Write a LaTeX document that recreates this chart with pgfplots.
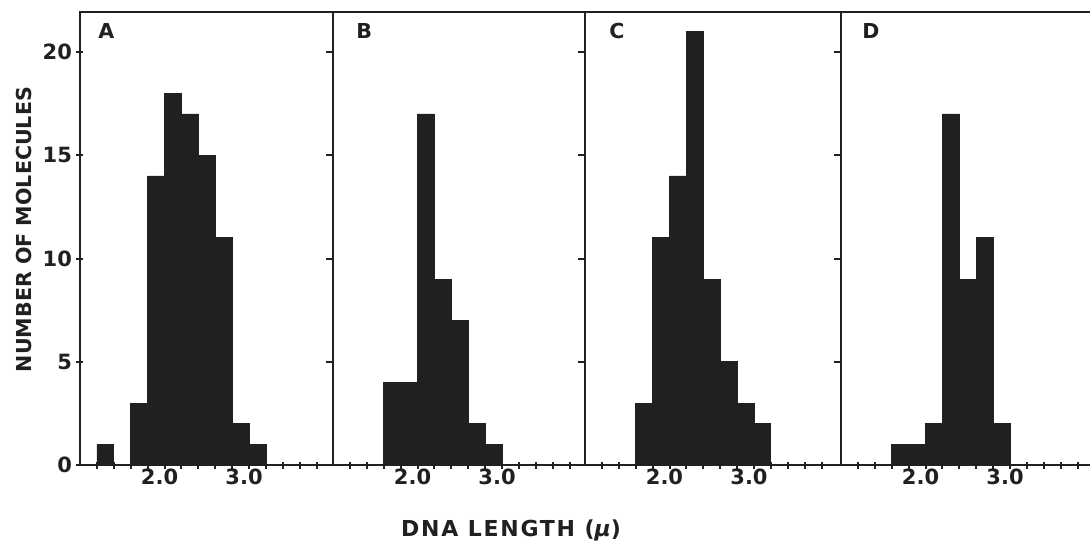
\documentclass[border=0pt]{standalone}
\usepackage{fontspec}
\setmainfont{DejaVu Sans}
\usepackage{pgfplots}
\pgfplotsset{compat=1.18}
\definecolor{barcolor}{RGB}{32,32,32}

\pgfplotsset{
  panel/.style={
    scale only axis,
    anchor=south west,
    height=226.5pt,
    xmin=1, ymin=0, ymax=21.94,
    axis line style={line width=1pt, barcolor},
    xtick={2,3}, xticklabels={2.0,3.0},
    minor xtick={1.2,1.4,1.6,1.8,2.2,2.4,2.6,2.8,3.2,3.4,3.6,3.8},
    ytick={0,5,10,15,20},
    xtick pos=bottom, ytick pos=left,
    tick align=outside,
    major tick length=3.5pt, minor tick length=3.5pt,
    tick style={line width=1pt, barcolor},
    x tick style={yshift=1.75pt},
    /pgf/number format/assume math mode=true,
    tick label style={font=\fontsize{10.5}{12}\selectfont\bfseries, text=barcolor},
    xticklabel style={xshift=-2.5pt, yshift=5pt},
    yticklabel style={xshift=3pt},
  },
}

\newcommand{\panelletter}[2]{%
  \node[anchor=north west, inner sep=0pt, font=\fontsize{10.3}{12}\selectfont\bfseries, text=barcolor]
    at (rel axis cs:0,1) [xshift=#1, yshift=-5.5pt] {#2};}

\begin{document}
\begin{tikzpicture}

% A
\begin{axis}[panel, at={(40pt,38.5pt)}, width=126.5pt, xmax=3.994, y tick style={xshift=1.5pt}]
\addplot[ybar interval, fill=barcolor, draw=barcolor] coordinates {
  (1.2,1) (1.4,0) (1.6,3) (1.8,14) (2.0,18) (2.2,17) (2.4,15) (2.6,11) (2.8,2) (3.0,1) (3.2,0)
};
\panelletter{9pt}{A}
\end{axis}

% B
\begin{axis}[panel, at={(166.5pt,38.5pt)}, width=126pt, xmax=3.982, yticklabels={}]
\addplot[ybar interval, fill=barcolor, draw=barcolor] coordinates {
  (1.6,4) (1.8,4) (2.0,17) (2.2,9) (2.4,7) (2.6,2) (2.8,1) (3.0,0)
};
\panelletter{11.5pt}{B}
\end{axis}

% C
\begin{axis}[panel, at={(292.5pt,38.5pt)}, width=128pt, xmax=4.03, yticklabels={}]
\addplot[ybar interval, fill=barcolor, draw=barcolor] coordinates {
  (1.6,3) (1.8,11) (2.0,14) (2.2,21) (2.4,9) (2.6,5) (2.8,3) (3.0,2) (3.2,0)
};
\panelletter{12pt}{C}
\end{axis}

% D
\begin{axis}[panel, at={(420.5pt,38.5pt)}, width=126.5pt, xmax=3.994, yticklabels={}]
\addplot[ybar interval, fill=barcolor, draw=barcolor] coordinates {
  (1.6,1) (1.8,1) (2.0,2) (2.2,17) (2.4,9) (2.6,11) (2.8,2) (3.0,0)
};
\panelletter{10.5pt}{D}
\end{axis}

\node[rotate=90, font=\fontsize{10.3}{12}\selectfont\bfseries, text=barcolor] at (12pt,156.25pt)
  {NUMBER OF MOLECULES};
\node[font=\fontsize{11}{13}\selectfont\bfseries\addfontfeature{LetterSpace=8}, text=barcolor] at (255.5pt,6pt)
  {DNA LENGTH ({\itshape μ})};

\pgfresetboundingbox
\path[use as bounding box] (0,0) rectangle (545pt,271pt);
\end{tikzpicture}
\end{document}
